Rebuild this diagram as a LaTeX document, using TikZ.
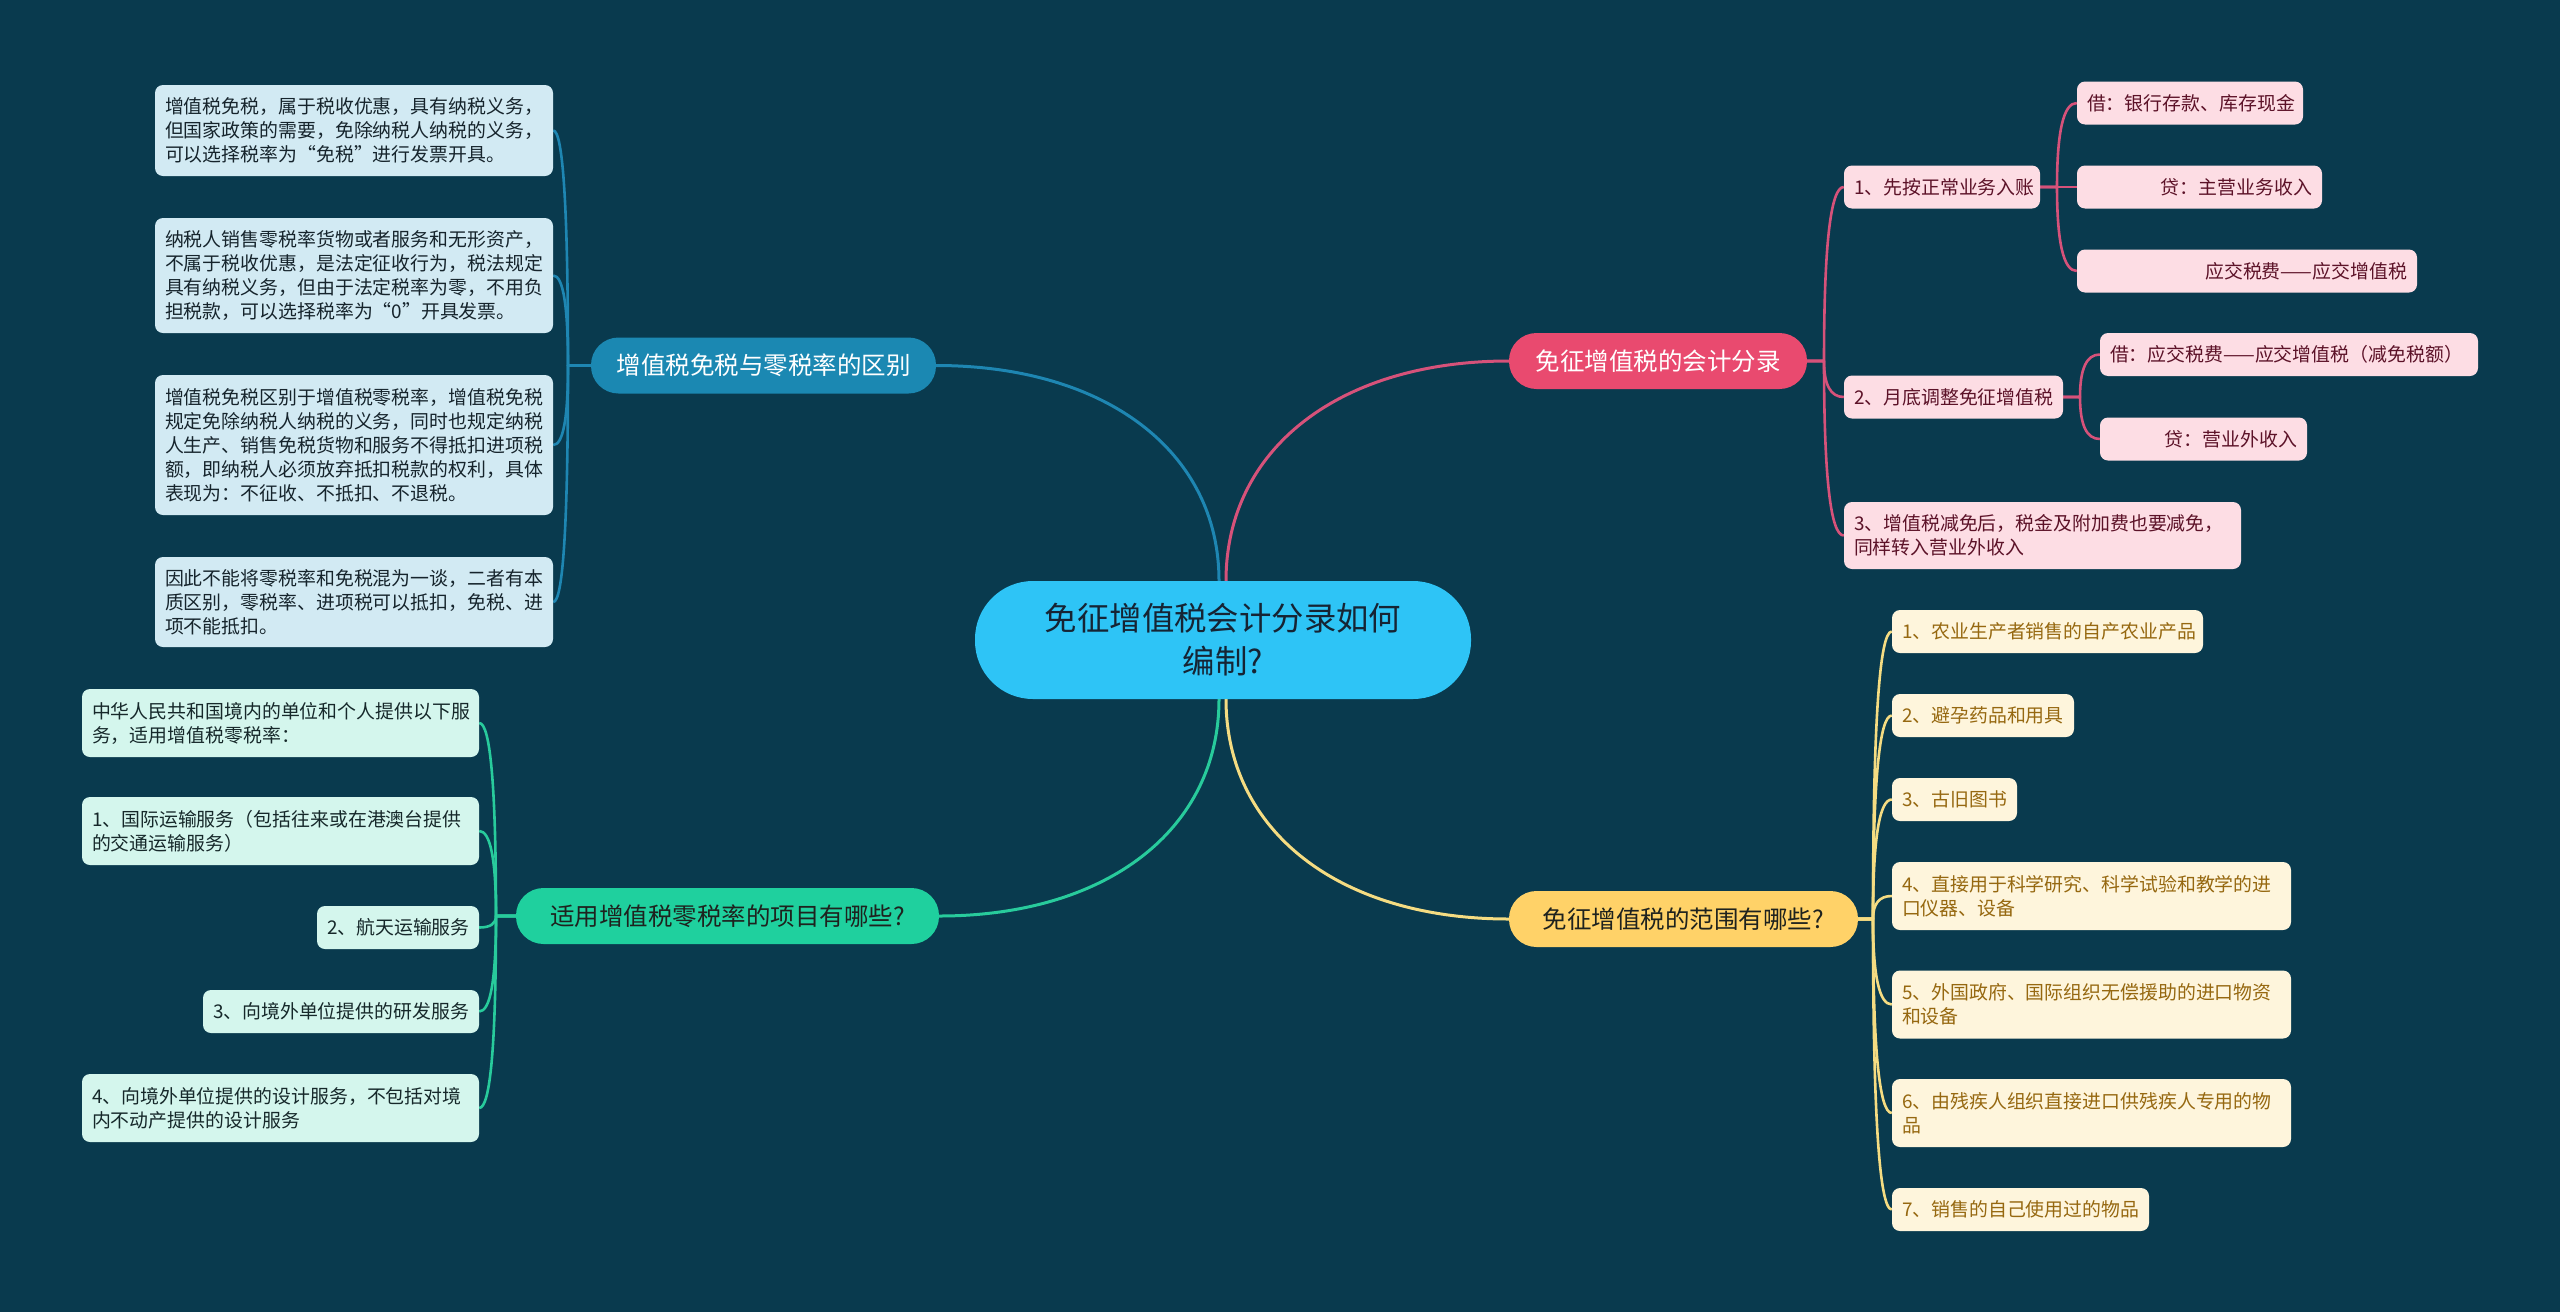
\documentclass[tikz,border=0pt]{standalone}
\usepackage{fontspec}
\setmainfont{Noto Sans CJK SC}
\usetikzlibrary{calc}
\pgfdeclarelayer{back}
\pgfdeclarelayer{lines}
\pgfsetlayers{back,lines,main}
\definecolor{bgc}{RGB}{9,58,78}
\definecolor{cenfill}{RGB}{46,196,246}
\definecolor{centext}{RGB}{22,36,52}
\definecolor{bluebr}{RGB}{27,136,178}
\definecolor{blueln}{RGB}{30,134,178}
\definecolor{bleafc}{RGB}{210,234,243}
\definecolor{bleaft}{RGB}{22,36,44}
\definecolor{pinkbr}{RGB}{233,74,111}
\definecolor{pinkln}{RGB}{214,82,122}
\definecolor{pleafc}{RGB}{253,221,228}
\definecolor{pleaft}{RGB}{92,18,40}
\definecolor{yelbr}{RGB}{255,210,104}
\definecolor{yelln}{RGB}{245,220,130}
\definecolor{yleafc}{RGB}{254,245,220}
\definecolor{yleaft}{RGB}{150,104,16}
\definecolor{grnbr}{RGB}{31,208,158}
\definecolor{grnln}{RGB}{40,203,156}
\definecolor{gleafc}{RGB}{212,246,237}
\definecolor{gleaft}{RGB}{22,40,42}
\definecolor{brtext}{RGB}{30,34,30}
\tikzset{
  leaf/.style={rounded corners=8pt, inner xsep=10pt, inner ysep=0pt,
    font=\fontsize{18.9pt}{24pt}\selectfont, align=left},
  bleaf/.style={leaf, fill=bleafc, text=bleaft},
  pleaf/.style={leaf, fill=pleafc, text=pleaft},
  yleaf/.style={leaf, fill=yleafc, text=yleaft},
  gleaf/.style={leaf, fill=gleafc, text=gleaft},
  branch/.style={rounded corners=27.5pt, minimum height=56pt, inner xsep=0pt,
    inner ysep=0pt, font=\fontsize{24.5pt}{30pt}\selectfont},
  mainln/.style={line width=3pt},
  subln/.style={line width=2.6pt, line join=round},
}
% #1 style, #2 parent anchor, #3 child anchor, #4 spine coordinate
\newcommand{\elb}[4]{%
  \coordinate (sa) at (#4 |- #2);
  \coordinate (sb) at (#4 |- #3);
  \draw[#1] (#2) -- (sa) .. controls ($(sa)!0.667!(sb)$) and ($(#3)!0.667!(sb)$) .. (#3);}
\newcommand{\mainc}[3]{%
  \coordinate (kk) at (#2 |- #3);
  \draw[#1] (#2) .. controls ($(#2)!0.6!(kk)$) and ($(#3)!0.6!(kk)$) .. (#3);}
\begin{document}
\begin{tikzpicture}[x=1pt,y=-1pt]
\begin{pgfonlayer}{back}
\fill[bgc] (0,0) rectangle (2560,1312);
\end{pgfonlayer}
\useasboundingbox (0,0) rectangle (2560,1312);

% central
\node[fill=cenfill, text=centext, rounded corners=58pt, minimum width=496pt,
  minimum height=118pt, inner sep=0pt, align=center,
  font=\fontsize{32.4pt}{43pt}\selectfont] (C) at (1223,640)
  {免征增值税会计分录如何\\编制?};

% branches
\node[branch, fill=bluebr, text=white, minimum width=345pt] (BL) at (763.5,365.5) {增值税免税与零税率的区别};
\node[branch, fill=pinkbr, text=white, minimum width=298pt] (PK) at (1658,361) {免征增值税的会计分录};
\node[branch, fill=yelbr, text=brtext, minimum width=349pt] (YL) at (1683.5,919) {免征增值税的范围有哪些?};
\node[branch, fill=grnbr, text=brtext, minimum width=423pt] (GR) at (727.5,916) {适用增值税零税率的项目有哪些?};

% blue leaves
\node[bleaf, text width=378pt, minimum height=91pt] (B1) at (354,130.5)
  {增值税免税，属于税收优惠，具有纳税义务，\\但国家政策的需要，免除纳税人纳税的义务，\\可以选择税率为“免税”进行发票开具。};
\node[bleaf, text width=378pt, minimum height=115pt] (B2) at (354,275.5)
  {纳税人销售零税率货物或者服务和无形资产，\\不属于税收优惠，是法定征收行为，税法规定\\具有纳税义务，但由于法定税率为零，不用负\\担税款，可以选择税率为“0”开具发票。};
\node[bleaf, text width=378pt, minimum height=140pt] (B3) at (354,445)
  {增值税免税区别于增值税零税率，增值税免税\\规定免除纳税人纳税的义务，同时也规定纳税\\人生产、销售免税货物和服务不得抵扣进项税\\额，即纳税人必须放弃抵扣税款的权利，具体\\表现为：不征收、不抵扣、不退税。};
\node[bleaf, text width=378pt, minimum height=90pt] (B4) at (354,602)
  {因此不能将零税率和免税混为一谈，二者有本\\质区别，零税率、进项税可以抵扣，免税、进\\项不能抵扣。};

% green leaves
\node[gleaf, text width=377pt, minimum height=68pt] (G0) at (280.5,723)
  {中华人民共和国境内的单位和个人提供以下服\\务，适用增值税零税率：};
\node[gleaf, text width=377pt, minimum height=68pt] (G1) at (280.5,831)
  {1、国际运输服务（包括往来或在港澳台提供\\的交通运输服务）};
\node[gleaf, text width=142pt, minimum height=43pt] (G2) at (398,927.5)
  {2、航天运输服务};
\node[gleaf, text width=256pt, minimum height=43pt] (G3) at (341,1011.5)
  {3、向境外单位提供的研发服务};
\node[gleaf, text width=377pt, minimum height=68pt] (G4) at (280.5,1108)
  {4、向境外单位提供的设计服务，不包括对境\\内不动产提供的设计服务};

% pink leaves
\node[pleaf, text width=176pt, minimum height=43pt] (P1) at (1942,187) {1、先按正常业务入账};
\node[pleaf, text width=199pt, minimum height=43pt] (P2) at (1953.5,397) {2、月底调整免征增值税};
\node[pleaf, text width=377pt, minimum height=67pt] (P3) at (2042.5,535.5)
  {3、增值税减免后，税金及附加费也要减免，\\同样转入营业外收入};
\node[pleaf, text width=206pt, minimum height=43pt] (Pa) at (2190,103) {借：银行存款、库存现金};
\node[pleaf, text width=225pt, minimum height=43pt, align=right] (Pb) at (2199.5,187) {贷：主营业务收入};
\node[pleaf, text width=320pt, minimum height=43pt, align=right] (Pc) at (2247,271) {应交税费——应交增值税};
\node[pleaf, text width=358pt, minimum height=43pt] (Qa) at (2289,354.5) {借：应交税费——应交增值税（减免税额）};
\node[pleaf, text width=187pt, minimum height=43pt, align=right] (Qb) at (2203.5,439) {贷：营业外收入};

% yellow leaves
\node[yleaf, text width=291pt, minimum height=43pt] (Y1) at (2047.5,631.5) {1、农业生产者销售的自产农业产品};
\node[yleaf, text width=162pt, minimum height=43pt] (Y2) at (1983,715.5) {2、避孕药品和用具};
\node[yleaf, text width=105pt, minimum height=43pt] (Y3) at (1954.5,799.5) {3、古旧图书};
\node[yleaf, text width=379pt, minimum height=68pt] (Y4) at (2091.5,896)
  {4、直接用于科学研究、科学试验和教学的进\\口仪器、设备};
\node[yleaf, text width=379pt, minimum height=68pt] (Y5) at (2091.5,1004.5)
  {5、外国政府、国际组织无偿援助的进口物资\\和设备};
\node[yleaf, text width=379pt, minimum height=68pt] (Y6) at (2091.5,1113)
  {6、由残疾人组织直接进口供残疾人专用的物\\品};
\node[yleaf, text width=237pt, minimum height=43pt] (Y7) at (2020.5,1209.5) {7、销售的自己使用过的物品};

% spines
\coordinate (bsp) at (568,0);
\coordinate (gsp) at (496,0);
\coordinate (psp) at (1824,0);
\coordinate (p1sp) at (2057,0);
\coordinate (p2sp) at (2080,0);
\coordinate (ysp) at (1873,0);
\coordinate (cn1) at ($(C.north)+(-4,0)$);
\coordinate (cn2) at ($(C.north)+(3,0)$);
\coordinate (cs1) at ($(C.south)+(-4,0)$);
\coordinate (cs2) at ($(C.south)+(3,0)$);

\begin{pgfonlayer}{lines}
\mainc{mainln, blueln}{cn1}{BL.east}
\mainc{mainln, pinkln}{cn2}{PK.west}
\mainc{mainln, grnln}{cs1}{GR.east}
\mainc{mainln, yelln}{cs2}{YL.west}

\foreach \n in {B1,B2,B3,B4} {\elb{subln, blueln}{BL.west}{\n.east}{bsp}}
\foreach \n in {G0,G1,G2,G3,G4} {\elb{subln, grnln}{GR.west}{\n.east}{gsp}}
\foreach \n in {P1,P2,P3} {\elb{subln, pinkln}{PK.east}{\n.west}{psp}}
\foreach \n in {Pa,Pb,Pc} {\elb{subln, pinkln}{P1.east}{\n.west}{p1sp}}
\foreach \n in {Qa,Qb} {\elb{subln, pinkln}{P2.east}{\n.west}{p2sp}}
\foreach \n in {Y1,Y2,Y3,Y4,Y5,Y6,Y7} {\elb{subln, yelln}{YL.east}{\n.west}{ysp}}
\end{pgfonlayer}
\end{tikzpicture}
\end{document}
